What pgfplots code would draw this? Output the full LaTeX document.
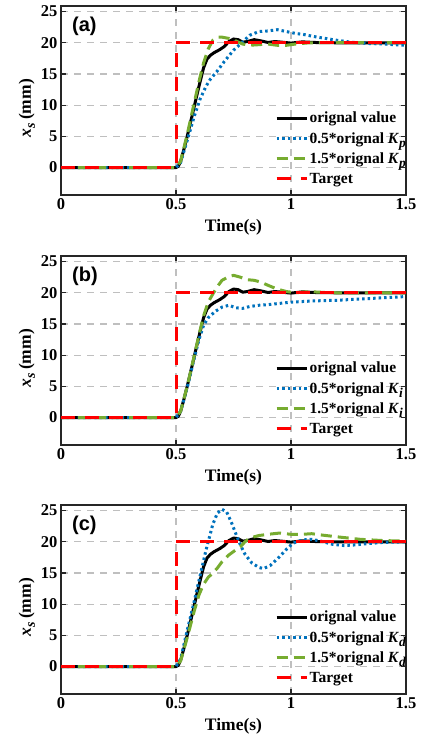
\documentclass[border=0pt]{standalone}
\usepackage{fontspec}
\setmainfont{Liberation Serif}
\newfontfamily\arialbf[BoldFont={Liberation Sans Bold}]{Liberation Sans}
\usepackage{pgfplots}
\pgfplotsset{compat=1.18}
\definecolor{mblue}{RGB}{0,114,189}
\definecolor{mgreen}{RGB}{119,172,48}
\definecolor{mred}{RGB}{255,0,0}
\newcommand\lsub[1]{\raisebox{-0.55ex}{\fontsize{13.5}{13.5}\selectfont\textbf{\textit{#1}}}}
\newcommand\ylab{\textbf{\textit{x}}\raisebox{-0.5ex}{\fontsize{14}{14}\selectfont\textbf{\textit{s}}}\,\textbf{(mm)}}
\pgfplotsset{
  panel/.style={
    width=345pt, height=189pt, scale only axis,
    xmin=0, xmax=1.5, ymin=-4.4, ymax=25.9,
    xtick={0,0.5,1,1.5}, ytick={0,5,10,15,20,25},
    grid=major,
    major grid style={line width=1.1pt, color=black!25, dash pattern=on 7pt off 6pt},
    tick align=inside, major tick length=5pt,
    axis line style={line width=1.2pt, black!85},
    tick style={line width=1.2pt, black!85},
    ticklabel style={font=\fontsize{16.5}{16.5}\selectfont\bfseries},
    /pgf/number format/assume math mode=true,
    xlabel={\textbf{Time(s)}},
    xlabel style={font=\fontsize{17.5}{17.5}\selectfont, at={(axis description cs:0.5,0)}, anchor=center, yshift=-32pt},
    ylabel style={font=\fontsize{17.5}{17.5}\selectfont, at={(axis description cs:-0.099,0.46)}, anchor=center},
    legend style={draw=none, fill=none, at={(0.62,0.447)}, anchor=north west, inner sep=0pt,
      font=\fontsize{15.5}{15.5}\selectfont\bfseries, row sep=5pt,
      nodes={inner sep=1.5pt}},
    legend cell align=left,
    legend image code/.code={\draw[##1] (0pt,0pt) -- (30pt,0pt);},
  },
  blk/.style={black, line width=3pt, solid},
  blu/.style={mblue, line width=3pt, dash pattern=on 2.5pt off 3pt},
  grn/.style={mgreen, line width=3pt, dash pattern=on 11pt off 6pt},
  tgt/.style={mred, line width=3pt, dash pattern=on 14pt off 10pt},
}
\begin{document}
\begin{tikzpicture}
\useasboundingbox (0,0) rectangle (420pt,738pt);
% ---------------- (a)
\begin{axis}[panel, at={(61pt,543pt)}, anchor=south west, ylabel={\ylab}]
\addplot[blk] coordinates {(0,0) (0.5,0) (0.51,0.2) (0.52,1) (0.535,3) (0.55,5.2) (0.57,8.3) (0.59,11.5) (0.605,13.8) (0.62,16) (0.635,17.4) (0.65,18) (0.665,18.4) (0.69,18.9) (0.71,19.4) (0.73,20.2) (0.75,20.6) (0.77,20.5) (0.79,20.1) (0.81,20.2) (0.84,20.5) (0.87,20.3) (0.9,20.05) (0.93,20.2) (0.96,20.1) (1.0,19.95) (1.05,20.15) (1.1,20.05) (1.2,20) (1.5,20)};
\addlegendentry{orignal value}
\addplot[blu] coordinates {(0,0) (0.5,0) (0.52,0.8) (0.55,4.5) (0.58,8.3) (0.605,11) (0.63,13) (0.65,14.2) (0.68,15.5) (0.71,17) (0.75,18.8) (0.78,19.8) (0.82,21.2) (0.86,21.8) (0.9,21.9) (0.94,22.1) (0.98,21.8) (1.02,21.5) (1.06,21.3) (1.1,21) (1.15,20.7) (1.2,20.4) (1.26,20.1) (1.33,19.9) (1.4,19.8) (1.5,19.6)};
\addlegendentry{0.5*orignal \textit{K}\lsub{p}}
\addplot[grn] coordinates {(0,0) (0.5,0) (0.52,1) (0.55,5.5) (0.58,10.5) (0.6,13.8) (0.62,16.8) (0.64,19) (0.66,20.4) (0.68,20.9) (0.7,20.9) (0.73,20.7) (0.76,20.3) (0.79,19.8) (0.82,19.6) (0.86,19.7) (0.9,19.8) (0.94,19.6) (0.98,19.6) (1.02,19.8) (1.08,20) (1.2,20.05) (1.5,20)};
\addlegendentry{1.5*orignal \textit{K}\lsub{p}}
\addplot[tgt] coordinates {(0,0) (0.5,0) (0.5,20) (1.5,20)};
\addlegendentry{Target}
\node[anchor=west, font=\arialbf\fontsize{20}{20}\selectfont\bfseries] at (rel axis cs:0.022,0.89) {(a)};
\end{axis}
% ---------------- (b)
\begin{axis}[panel, at={(61pt,293pt)}, anchor=south west, ylabel={\ylab}]
\addplot[blk] coordinates {(0,0) (0.5,0) (0.51,0.2) (0.52,1) (0.535,3) (0.55,5.2) (0.57,8.3) (0.59,11.5) (0.605,13.8) (0.62,16) (0.635,17.4) (0.65,18) (0.665,18.4) (0.69,18.9) (0.71,19.4) (0.73,20.2) (0.75,20.6) (0.77,20.5) (0.79,20.1) (0.81,20.2) (0.84,20.5) (0.87,20.3) (0.9,20.05) (0.93,20.2) (0.96,20.1) (1.0,19.95) (1.05,20.15) (1.1,20.05) (1.2,20) (1.5,20)};
\addlegendentry{orignal value}
\addplot[blu] coordinates {(0,0) (0.5,0) (0.52,1) (0.55,5) (0.58,9.6) (0.6,12.5) (0.62,14.8) (0.64,16) (0.67,17) (0.7,17.7) (0.73,18) (0.76,17.6) (0.79,17.5) (0.82,17.8) (0.86,18) (0.9,18.1) (0.95,18.3) (1.0,18.5) (1.05,18.6) (1.1,18.7) (1.2,18.8) (1.3,19) (1.4,19.2) (1.5,19.4)};
\addlegendentry{0.5*orignal \textit{K}\lsub{i}}
\addplot[grn] coordinates {(0,0) (0.5,0) (0.52,1) (0.55,5.2) (0.58,10) (0.6,13.3) (0.62,16.3) (0.64,18.5) (0.66,19.8) (0.68,21) (0.7,22) (0.73,22.6) (0.75,22.8) (0.78,22.5) (0.81,22.1) (0.84,22) (0.87,21.7) (0.9,21.2) (0.94,20.6) (0.98,20.2) (1.02,20) (1.08,20.2) (1.12,20.1) (1.2,20) (1.5,20)};
\addlegendentry{1.5*orignal \textit{K}\lsub{i}}
\addplot[tgt] coordinates {(0,0) (0.5,0) (0.5,20) (1.5,20)};
\addlegendentry{Target}
\node[anchor=west, font=\arialbf\fontsize{20}{20}\selectfont\bfseries] at (rel axis cs:0.022,0.89) {(b)};
\end{axis}
% ---------------- (c)
\begin{axis}[panel, at={(61pt,44pt)}, anchor=south west, ylabel={\ylab}]
\addplot[blk] coordinates {(0,0) (0.5,0) (0.51,0.2) (0.52,1) (0.535,3) (0.55,5.2) (0.57,8.3) (0.59,11.5) (0.605,13.8) (0.62,16) (0.635,17.4) (0.65,18) (0.665,18.4) (0.69,18.9) (0.71,19.4) (0.73,20.2) (0.75,20.6) (0.77,20.5) (0.79,20.1) (0.81,20.2) (0.84,20.5) (0.87,20.3) (0.9,20.05) (0.93,20.2) (0.96,20.1) (1.0,19.95) (1.05,20.15) (1.1,20.05) (1.2,20) (1.5,20)};
\addlegendentry{orignal value}
\addplot[blu] coordinates {(0,0) (0.5,0) (0.52,1.2) (0.55,6) (0.575,9.8) (0.6,13.8) (0.63,18.6) (0.66,22.8) (0.68,24.6) (0.7,25.2) (0.72,24.8) (0.74,23.2) (0.76,21.3) (0.78,19.5) (0.8,18) (0.83,16.6) (0.86,15.9) (0.88,15.7) (0.91,16.2) (0.95,17.6) (0.98,18.8) (1.01,19.8) (1.05,20.3) (1.09,20.4) (1.13,20.1) (1.18,19.6) (1.23,19.4) (1.28,19.5) (1.33,19.7) (1.4,19.9) (1.5,20)};
\addlegendentry{0.5*orignal \textit{K}\lsub{d}}
\addplot[grn] coordinates {(0,0) (0.5,0) (0.52,0.9) (0.55,4.8) (0.58,9) (0.6,11.5) (0.62,13.2) (0.64,14.3) (0.66,15) (0.68,15.8) (0.7,16.8) (0.73,17.9) (0.76,18.7) (0.78,19.2) (0.8,20) (0.82,20.6) (0.86,21) (0.9,21.2) (0.95,21.4) (1.0,21.2) (1.05,21.2) (1.09,21.3) (1.13,21.1) (1.2,20.8) (1.3,20.4) (1.4,20.2) (1.5,20.1)};
\addlegendentry{1.5*orignal \textit{K}\lsub{d}}
\addplot[tgt] coordinates {(0,0) (0.5,0) (0.5,20) (1.5,20)};
\addlegendentry{Target}
\node[anchor=west, font=\arialbf\fontsize{20}{20}\selectfont\bfseries] at (rel axis cs:0.022,0.89) {(c)};
\end{axis}
\end{tikzpicture}
\end{document}
